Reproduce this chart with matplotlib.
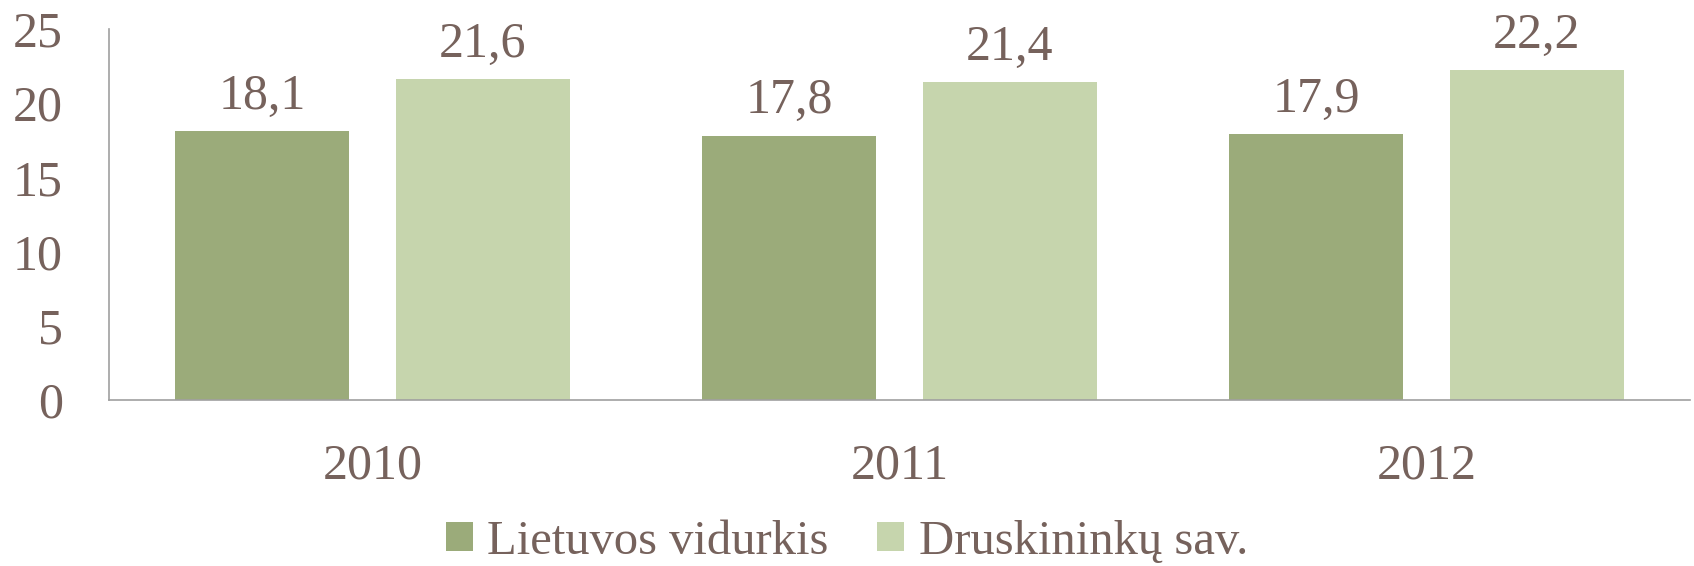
import matplotlib
matplotlib.use("Agg")
import matplotlib.pyplot as plt
import numpy as np

years = ["2010", "2011", "2012"]
lietuvos = [18.1, 17.8, 17.9]
druskininku = [21.6, 21.4, 22.2]
series_names = ["Lietuvos vidurkis", "Druskininkų sav."]

text_color = "#76625C"
dark_green = "#9BAB7A"
light_green = "#C6D5AD"

plt.rcParams["font.family"] = ["Liberation Serif", "DejaVu Serif"]

fig = plt.figure(figsize=(16.94, 5.66), dpi=100)
ax = fig.add_axes([0.0643, 0.293, 0.9333, 0.656])

x = np.arange(len(years))
w = 0.33
off = 0.209
b1 = ax.bar(x - off, lietuvos, w, color=dark_green, label=series_names[0])
b2 = ax.bar(x + off, druskininku, w, color=light_green, label=series_names[1])

for bars, vals in ((b1, lietuvos), (b2, druskininku)):
    for rect, v in zip(bars, vals):
        ax.text(rect.get_x() + rect.get_width() / 2, v + 0.8, f"{v:.1f}".replace(".", ","),
                ha="center", va="bottom", fontsize=36, color=text_color)

ax.set_xlim(-0.5, 2.5)
ax.set_ylim(0, 25)
ax.set_yticks([0, 5, 10, 15, 20, 25])
ax.set_xticks(x)
ax.set_xticklabels(years)
ax.tick_params(axis="both", length=0, labelsize=36, colors=text_color)
ax.tick_params(axis="y", pad=33)
ax.tick_params(axis="x", pad=31)

for s in ("top", "right"):
    ax.spines[s].set_visible(False)
for s in ("left", "bottom"):
    ax.spines[s].set_color("#A0A0A0")
    ax.spines[s].set_linewidth(1.2)

leg = fig.legend(handles=[b1, b2], loc="center", bbox_to_anchor=(0.5, 0.043), ncol=2,
                 frameon=False, fontsize=35, handlelength=0.55, handleheight=0.55,
                 handletextpad=0.3, columnspacing=1.0)
for t in leg.get_texts():
    t.set_color(text_color)

fig.savefig("out.png", dpi=100)
